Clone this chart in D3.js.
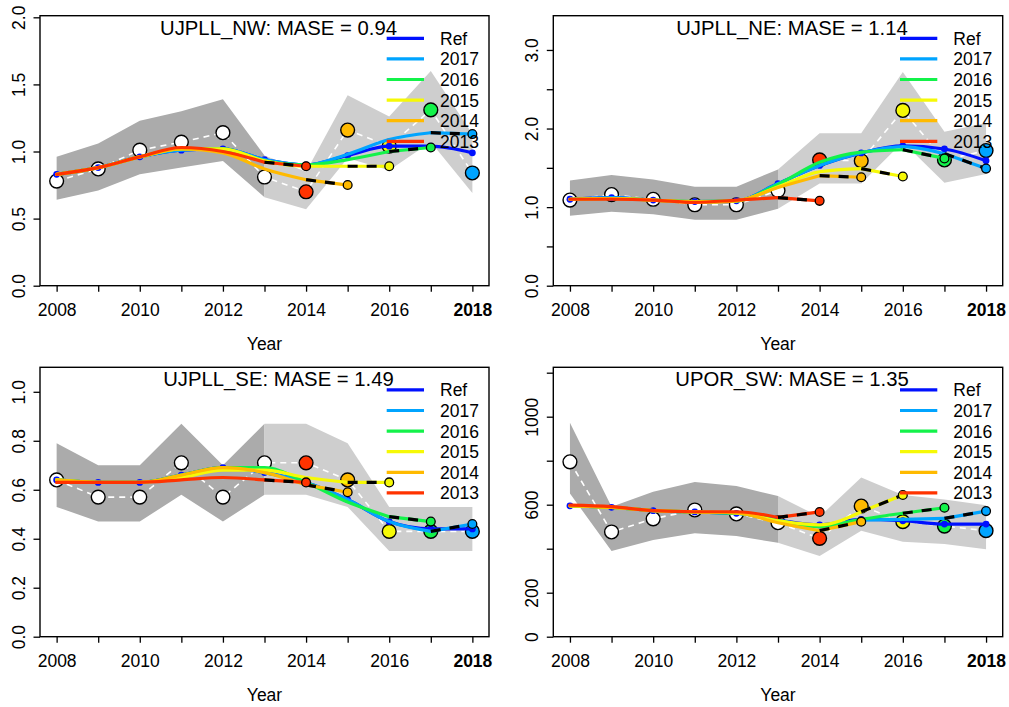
<!DOCTYPE html>
<html><head><meta charset="utf-8">
<script src="https://cdn.jsdelivr.net/npm/d3@7"></script>
<style>
body{margin:0;background:#fff}
text{font-family:"Liberation Sans",Arial,Helvetica,sans-serif;fill:#000}
</style>
</head><body>
<svg id="chart" width="1009" height="707"></svg>
<script>
// ---------------- data ----------------
const years = [2008,2009,2010,2011,2012,2013,2014,2015,2016,2017,2018];
const peelYears = [2017,2016,2015,2014,2013];
const legendLabels = ["Ref","2017","2016","2015","2014","2013"];
const seriesColors = ["#0010FF","#00A4FF","#13F24A","#F6F906","#FFBA00","#FF3300"];
const xTickLabels = [2008,2010,2012,2014,2016,2018];

// Panel 1: UJPLL_NW
const nwTitle = "UJPLL_NW: MASE = 0.94";
const nwObs   = [0.78,0.87,1.01,1.07,1.14,0.81,0.70,1.16,1.04,1.31,0.84];
const nwUpper = [0.96,1.06,1.23,1.30,1.39,0.97,0.85,1.42,1.26,1.60,1.13];
const nwLower = [0.64,0.71,0.83,0.88,0.93,0.66,0.57,0.95,0.86,1.07,0.69];
const nwRef   = [0.83,0.88,0.96,1.01,1.02,0.94,0.90,0.97,1.04,1.04,0.99];
const nwP2017 = [0.83,0.88,0.96,1.01,1.02,0.94,0.90,0.98,1.09,1.14,1.13];
const nwP2016 = [0.83,0.88,0.96,1.02,1.02,0.93,0.90,0.94,1.00,1.03];
const nwP2015 = [0.83,0.88,0.96,1.02,1.02,0.93,0.89,0.89,0.89];
const nwP2014 = [0.83,0.88,0.96,1.02,0.99,0.87,0.79,0.75];
const nwP2013 = [0.83,0.88,0.96,1.03,1.00,0.92,0.89];
const nwYTicks = [0,0.5,1,1.5,2];
const nwYLabels = ["0.0","0.5","1.0","1.5","2.0"];

// Panel 2: UJPLL_NE
const neTitle = "UJPLL_NE: MASE = 1.14";
const neObs   = [1.09,1.16,1.10,1.03,1.03,1.21,1.60,1.59,2.23,1.60,1.72];
const neUpper = [1.34,1.41,1.35,1.26,1.26,1.48,1.94,1.94,2.72,1.96,2.07];
const neLower = [0.89,0.94,0.91,0.84,0.84,0.98,1.30,1.30,1.83,1.31,1.42];
const neRef   = [1.10,1.12,1.09,1.07,1.08,1.30,1.53,1.69,1.78,1.74,1.59];
const neP2017 = [1.10,1.12,1.09,1.07,1.08,1.30,1.53,1.69,1.77,1.68,1.49];
const neP2016 = [1.10,1.11,1.09,1.07,1.08,1.29,1.57,1.70,1.73,1.62];
const neP2015 = [1.10,1.11,1.09,1.07,1.08,1.26,1.45,1.49,1.39];
const neP2014 = [1.10,1.11,1.09,1.06,1.08,1.25,1.40,1.38];
const neP2013 = [1.10,1.10,1.09,1.06,1.09,1.12,1.08];
const neYTicks = [0,0.5,1,1.5,2,2.5,3];
const neYLabels = ["0.0","","1.0","","2.0","","3.0"];

// Panel 3: UJPLL_SE
const seTitle = "UJPLL_SE: MASE = 1.49";
const seObs   = [0.64,0.57,0.57,0.71,0.57,0.71,0.71,0.64,0.43,0.43,0.43];
const seUpper = [0.79,0.70,0.70,0.87,0.70,0.87,0.87,0.79,0.53,0.53,0.53];
const seLower = [0.53,0.47,0.47,0.58,0.47,0.58,0.58,0.53,0.35,0.35,0.35];
const seRef   = [0.64,0.63,0.63,0.66,0.69,0.67,0.63,0.56,0.47,0.44,0.44];
const seP2017 = [0.64,0.63,0.63,0.66,0.69,0.67,0.63,0.56,0.47,0.43,0.46];
const seP2016 = [0.64,0.63,0.63,0.66,0.69,0.69,0.63,0.55,0.49,0.47];
const seP2015 = [0.64,0.63,0.63,0.65,0.68,0.68,0.65,0.63,0.63];
const seP2014 = [0.64,0.63,0.63,0.66,0.69,0.67,0.62,0.59];
const seP2013 = [0.63,0.63,0.63,0.64,0.65,0.64,0.63];
const seYTicks = [0,0.2,0.4,0.6,0.8,1.0];
const seYLabels = ["0.0","0.2","0.4","0.6","0.8","1.0"];

// Panel 4: UPOR_SW
const swTitle = "UPOR_SW: MASE = 1.35";
const swObs   = [795,476,536,576,558,518,447,594,523,503,482];
const swUpper = [973,591,659,703,685,639,545,724,644,624,598];
const swLower = [651,389,439,470,458,427,367,482,432,421,397];
const swRef   = [595,588,573,567,561,530,508,533,527,512,512];
const swP2017 = [595,588,573,567,561,530,500,530,533,538,571];
const swP2016 = [595,588,573,567,561,527,500,533,561,586];
const swP2015 = [595,588,573,567,563,527,508,568,644];
const swP2014 = [595,588,573,567,563,518,482,523];
const swP2013 = [598,591,573,568,568,542,567];
const swYTicks = [0,200,400,600,800,1000,1200];
const swYLabels = ["0","200","","600","","1000",""];

// ---------------- layout ----------------
const panels = [
  {title:nwTitle, obs:nwObs, upper:nwUpper, lower:nwLower, ref:nwRef,
   peels:[nwP2017,nwP2016,nwP2015,nwP2014,nwP2013], yTicks:nwYTicks, yLabels:nwYLabels,
   L:40, R:489, T:15.7, B:285.7, yMax:2.012},
  {title:neTitle, obs:neObs, upper:neUpper, lower:neLower, ref:neRef,
   peels:[neP2017,neP2016,neP2015,neP2014,neP2013], yTicks:neYTicks, yLabels:neYLabels,
   L:553.3, R:1002.7, T:15.7, B:285.7, yMax:3.436},
  {title:seTitle, obs:seObs, upper:seUpper, lower:seLower, ref:seRef,
   peels:[seP2017,seP2016,seP2015,seP2014,seP2013], yTicks:seYTicks, yLabels:seYLabels,
   L:40, R:489, T:367.3, B:636.7, yMax:1.1},
  {title:swTitle, obs:swObs, upper:swUpper, lower:swLower, ref:swRef,
   peels:[swP2017,swP2016,swP2015,swP2014,swP2013], yTicks:swYTicks, yLabels:swYLabels,
   L:553.3, R:1002.7, T:367.3, B:636.7, yMax:1224.5}
];

const svg = d3.select("#chart");
const FS = 17.5;

panels.forEach(p => {
  const g = svg.append("g");
  const x = d3.scaleLinear().domain([2007.6, 2018.4]).range([p.L, p.R]);
  const y = d3.scaleLinear().domain([0, p.yMax]).range([p.B, p.T]);
  const pts = arr => arr.map((v,i) => ({yr: years[i], v}));

  const band = (i0, i1) => {
    const up = [], lo = [];
    for (let i = i0; i <= i1; i++) { up.push([x(years[i]), y(p.upper[i])]); lo.push([x(years[i]), y(p.lower[i])]); }
    return up.concat(lo.reverse());
  };
  // CI polygons
  g.append("path").attr("d", d3.line()(band(0,5)) + "Z").attr("fill", "#ABABAB");
  g.append("path").attr("d", d3.line()(band(5,10)) + "Z").attr("fill", "#CECECE");

  const line = d3.line().x(d => x(d.yr)).y(d => y(d.v));
  const smooth = d3.line().x(d => x(d.yr)).y(d => y(d.v)).curve(d3.curveMonotoneX);

  // observed dashed white line
  g.append("path").attr("d", line(pts(p.obs))).attr("fill","none")
    .attr("stroke","#fff").attr("stroke-width",1.6).attr("stroke-dasharray","6,5");
  // observed points
  g.selectAll(".obs").data(pts(p.obs)).enter().append("circle")
    .attr("cx", d => x(d.yr)).attr("cy", d => y(d.v)).attr("r", 6.9)
    .attr("fill", d => d.yr >= 2014 ? seriesColors[1 + peelYears.indexOf(d.yr - 1)] : "#fff")
    .attr("stroke", "#000").attr("stroke-width", 1.4);

  // reference run
  g.append("path").attr("d", smooth(pts(p.ref))).attr("fill","none")
    .attr("stroke", seriesColors[0]).attr("stroke-width", 3.2)
    .attr("stroke-linejoin","round").attr("stroke-linecap","round");
  g.selectAll(".refpt").data(pts(p.ref)).enter().append("circle")
    .attr("cx", d => x(d.yr)).attr("cy", d => y(d.v)).attr("r", 3.4)
    .attr("fill", seriesColors[0]);

  // peels
  p.peels.forEach((arr, k) => {
    const col = seriesColors[k+1];
    const dp = pts(arr);
    const fit = dp.slice(0, -1);
    const last2 = dp.slice(-2);
    g.append("path").attr("d", smooth(fit)).attr("fill","none")
      .attr("stroke", col).attr("stroke-width", 3.2)
      .attr("stroke-linejoin","round").attr("stroke-linecap","round");
    g.append("path").attr("d", line(last2)).attr("fill","none")
      .attr("stroke", col).attr("stroke-width", 3.2).attr("stroke-linecap","round");
    g.append("path").attr("d", line(last2)).attr("fill","none")
      .attr("stroke", "#000").attr("stroke-width", 3.2).attr("stroke-dasharray","10,9");
    const e = dp[dp.length-1];
    g.append("circle").attr("cx", x(e.yr)).attr("cy", y(e.v)).attr("r", 4.4)
      .attr("fill", col).attr("stroke","#000").attr("stroke-width",1.3);
  });

  // box
  g.append("rect").attr("x", p.L).attr("y", p.T).attr("width", p.R - p.L).attr("height", p.B - p.T)
    .attr("fill","none").attr("stroke","#000").attr("stroke-width",1.4);

  // x axis
  const xa = g.append("g").attr("transform", `translate(0,${p.B})`)
    .call(d3.axisBottom(x).tickValues(years).tickSize(6).tickSizeOuter(0)
      .tickFormat(d => xTickLabels.includes(d) ? String(d) : ""));
  xa.select(".domain").remove();
  xa.selectAll(".tick line").attr("stroke","#000").attr("stroke-width",1.3);
  xa.selectAll(".tick text").attr("y", 30.3).attr("dy", null)
    .attr("font-size", FS).attr("fill","#000")
    .attr("font-weight", d => d === 2018 ? "bold" : "normal");

  // y axis
  const ya = g.append("g").attr("transform", `translate(${p.L},0)`)
    .call(d3.axisLeft(y).tickValues(p.yTicks).tickSize(6.5).tickSizeOuter(0)
      .tickFormat((d,i) => p.yLabels[i]));
  ya.select(".domain").remove();
  ya.selectAll(".tick line").attr("stroke","#000").attr("stroke-width",1.3);
  ya.selectAll(".tick text").attr("x", null).attr("dy", null)
    .attr("transform","translate(-15,0) rotate(-90)")
    .attr("text-anchor","middle").attr("font-size", FS).attr("fill","#000");

  // x label
  g.append("text").attr("x", (p.L + p.R)/2).attr("y", p.B + 64.3)
    .attr("text-anchor","middle").attr("font-size", FS).text("Year");

  // title
  g.append("text").attr("x", (p.L + p.R)/2 + 14).attr("y", p.T + 19)
    .attr("text-anchor","middle").attr("font-size", 20.3).text(p.title);

  // legend
  legendLabels.forEach((lab, i) => {
    const ly = p.T + 22.6 + i * 20.6;
    g.append("line").attr("x1", p.L + 346.7).attr("x2", p.L + 384)
      .attr("y1", ly).attr("y2", ly).attr("stroke", seriesColors[i]).attr("stroke-width", 3.2);
    g.append("text").attr("x", p.L + 400).attr("y", ly + 6.4)
      .attr("font-size", FS).text(lab);
  });
});
</script>
</body></html>
